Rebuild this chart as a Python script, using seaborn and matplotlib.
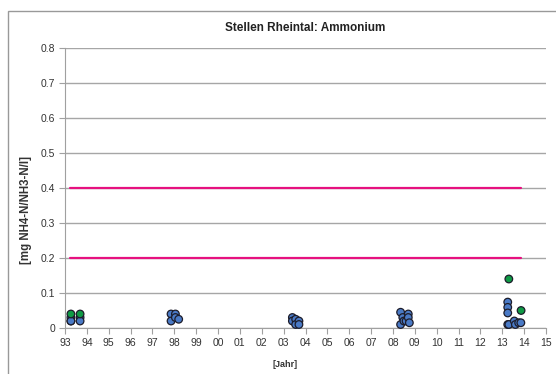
import numpy as np
import pandas as pd
import matplotlib
matplotlib.use("Agg")
import matplotlib.pyplot as plt
import seaborn as sns

# sampling dates (decimal years) and NH4-N values [mg/l]
blue_x = [1993.27, 1993.27, 1993.27, 1993.69, 1993.69,
          1997.85, 1997.85, 1998.05, 1998.05, 1998.2,
          2003.4, 2003.4, 2003.55, 2003.55, 2003.7, 2003.7,
          2008.35, 2008.35, 2008.45, 2008.5, 2008.6, 2008.7, 2008.7, 2008.75,
          2013.25, 2013.25, 2013.25, 2013.25, 2013.3,
          2013.55, 2013.6, 2013.75, 2013.85]
blue_y = [0.03, 0.02, 0.02, 0.03, 0.02,
          0.04, 0.02, 0.04, 0.03, 0.025,
          0.03, 0.02, 0.025, 0.01, 0.02, 0.01,
          0.045, 0.01, 0.03, 0.02, 0.02, 0.04, 0.03, 0.015,
          0.074, 0.059, 0.043, 0.01, 0.01,
          0.02, 0.01, 0.015, 0.015]
green_x = [1993.27, 1993.69, 2013.3, 2013.86]
green_y = [0.04, 0.04, 0.14, 0.05]

limits = [0.2, 0.4]
limit_start, limit_end = 1993.25, 2013.85

year_ticks = list(range(1993, 2016))
year_labels = ["%02d" % (y % 100) for y in year_ticks]

df = pd.DataFrame({
    "jahr": blue_x + green_x,
    "wert": blue_y + green_y,
    "serie": ["blau"] * len(blue_x) + ["gruen"] * len(green_x),
})

sns.set_style("white")
plt.rcParams["font.family"] = ["Liberation Sans", "DejaVu Sans"]

fig = plt.figure(figsize=(5.56, 3.74), dpi=100)
ax = fig.add_axes([65 / 556, 1 - 328 / 374, 481 / 556, 280 / 374])

for lim in limits:
    ax.plot([limit_start, limit_end], [lim, lim], color="#e6117f", lw=1.6, zorder=2)

sns.scatterplot(data=df, x="jahr", y="wert", hue="serie",
                palette={"blau": "#4a7ac6", "gruen": "#0f9a45"},
                s=30, edgecolor="#1c1c2a", linewidth=0.9, legend=False,
                ax=ax, zorder=3, clip_on=False)

ax.set_xlim(1993, 2015)
ax.set_ylim(0, 0.8)
ax.set_yticks(np.arange(0, 0.81, 0.1))
ax.set_yticklabels(["0"] + ["%.1f" % v for v in np.arange(0.1, 0.81, 0.1)])
ax.set_xticks(year_ticks)
ax.set_xticklabels(year_labels)
ax.yaxis.grid(True, color="#a6a6a6", lw=1.0)
ax.set_axisbelow(True)
for side in ["top", "right"]:
    ax.spines[side].set_visible(False)
for side in ["left", "bottom"]:
    ax.spines[side].set_color("#a0a0a0")
ax.tick_params(axis="both", direction="out", length=4, width=0.8, color="#a0a0a0",
               labelsize=7.5, labelcolor="#333333", pad=3,
               bottom=True, left=True)

ax.set_xlabel("[Jahr]", fontsize=6.5, fontweight="bold", color="#333333")
ax.xaxis.set_label_coords(0.457, -0.115)
ax.set_ylabel("[mg NH4-N/NH3-N/l]", fontsize=8.3, fontweight="bold", color="#333333")
ax.yaxis.set_label_coords(-0.068, 0.42)
ax.set_title("Stellen Rheintal: Ammonium", fontsize=8.5, fontweight="bold",
             color="#222222", pad=12)

# outer chart frame
fig.patches.append(plt.Rectangle((8 / 556, -0.2), 2, (374 - 11) / 374 + 0.2,
                                 transform=fig.transFigure, fill=False,
                                 edgecolor="#999999", lw=1.0))

fig.savefig("out.png", dpi=100)
